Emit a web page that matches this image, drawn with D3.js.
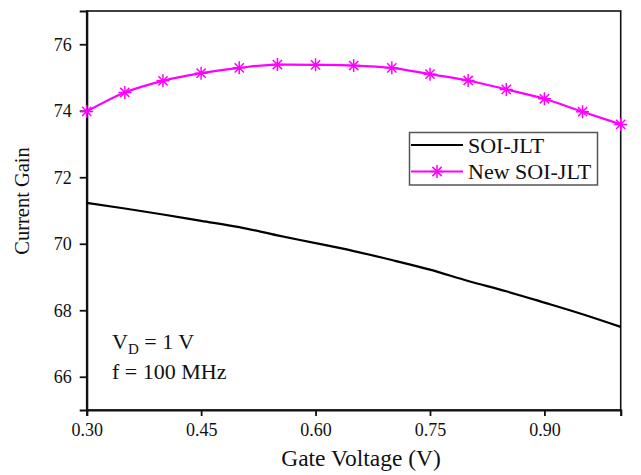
<!DOCTYPE html>
<html>
<head>
<meta charset="utf-8">
<script src="https://cdn.jsdelivr.net/npm/d3@7"></script>
<style>
html,body{margin:0;padding:0;background:#fff;}
svg{display:block;}
text{font-family:"Liberation Serif","Times New Roman",serif;fill:#111;}
</style>
</head>
<body>
<svg id="chart" width="641" height="475"></svg>
<script>
const gateVoltage = [0.30,0.35,0.40,0.45,0.50,0.55,0.60,0.65,0.70,0.75,0.80,0.85,0.90,0.95,1.00];
const soiJLT = [71.23,71.06,70.88,70.69,70.50,70.25,70.02,69.78,69.51,69.22,68.88,68.57,68.23,67.88,67.50];
const newSoiJLT = [73.98,74.55,74.90,75.13,75.29,75.39,75.38,75.36,75.29,75.10,74.91,74.64,74.36,73.97,73.59];
const xTicks = [0.30,0.45,0.60,0.75,0.90];
const yTicks = [66,68,70,72,74,76];
const seriesNames = ["SOI-JLT","New SOI-JLT"];

const svg = d3.select("#chart");
const L = 86.7, R = 620.7, T = 11, B = 410;
const x = d3.scaleLinear().domain([0.30,1.00]).range([L,R]);
const y = d3.scaleLinear().domain([65,77]).range([B,T]);

// frame
svg.append("rect").attr("x",L).attr("y",T).attr("width",R-L).attr("height",B-T)
  .attr("fill","none").attr("stroke","#111").attr("stroke-width",1.6);

const xAxis = svg.append("g").attr("transform",`translate(0,${B})`)
  .call(d3.axisBottom(x).tickValues(xTicks).tickFormat(d3.format(".2f")).tickSize(6).tickPadding(6));
const yAxis = svg.append("g").attr("transform",`translate(${L},0)`)
  .call(d3.axisLeft(y).tickValues(yTicks).tickFormat(d3.format("d")).tickSize(7).tickPadding(8));
[xAxis,yAxis].forEach(a=>{
  a.select(".domain").attr("stroke","#111").attr("stroke-width",2.2);
  a.selectAll(".tick line").attr("stroke","#111").attr("stroke-width",1.8);
  a.selectAll(".tick text").attr("font-size",18).attr("fill","#111")
    .attr("font-family","Liberation Serif, Times New Roman, serif");
});
xAxis.selectAll(".tick text").attr("dy","0.8em");

// lines
const line = d3.line().x((d,i)=>x(gateVoltage[i])).y(d=>y(d)).curve(d3.curveMonotoneX);
const plot = svg.append("g");
plot.append("path").datum(soiJLT).attr("d",line).attr("fill","none")
  .attr("stroke","#000").attr("stroke-width",2.2);
plot.append("path").datum(newSoiJLT).attr("d",line).attr("fill","none")
  .attr("stroke","#ff00ff").attr("stroke-width",2.2);

function asterisk(r){
  const a = r*Math.SQRT1_2;
  return `M${-r},0L${r},0M0,${-r}L0,${r}M${-a},${-a}L${a},${a}M${-a},${a}L${a},${-a}`;
}
plot.selectAll(".mk").data(newSoiJLT).enter().append("path")
  .attr("transform",(d,i)=>`translate(${x(gateVoltage[i])},${y(d)})`)
  .attr("d",asterisk(6.5)).attr("stroke","#ff00ff").attr("stroke-width",1.5).attr("fill","none");

// axis titles
svg.append("text").attr("x",361).attr("y",466).attr("text-anchor","middle")
  .attr("font-size",23.5).text("Gate Voltage (V)");
svg.append("text").attr("transform","translate(29,201) rotate(-90)").attr("text-anchor","middle")
  .attr("font-size",20.5).text("Current Gain");

// legend
const lg = svg.append("g");
lg.append("rect").attr("x",409.5).attr("y",132.5).attr("width",188).attr("height",52.5)
  .attr("fill","#fff").attr("stroke","#555").attr("stroke-width",1.5);
lg.append("line").attr("x1",411).attr("x2",463).attr("y1",145).attr("y2",145)
  .attr("stroke","#000").attr("stroke-width",2.2);
lg.append("line").attr("x1",411).attr("x2",463).attr("y1",171.5).attr("y2",171.5)
  .attr("stroke","#ff00ff").attr("stroke-width",2.2);
lg.append("path").attr("transform","translate(437,171.5)").attr("d",asterisk(6.5))
  .attr("stroke","#ff00ff").attr("stroke-width",1.5).attr("fill","none");
lg.selectAll(".lt").data(seriesNames).enter().append("text")
  .attr("x",468).attr("y",(d,i)=>152.5+i*26.5).attr("font-size",22).text(d=>d);

// annotation
const ann = svg.append("text").attr("x",112).attr("y",349).attr("font-size",22);
ann.append("tspan").text("V");
ann.append("tspan").attr("font-size",15).attr("dy",5).text("D");
ann.append("tspan").attr("dy",-5).text(" = 1 V");
svg.append("text").attr("x",112).attr("y",379).attr("font-size",22).text("f = 100 MHz");
</script>
</body>
</html>
